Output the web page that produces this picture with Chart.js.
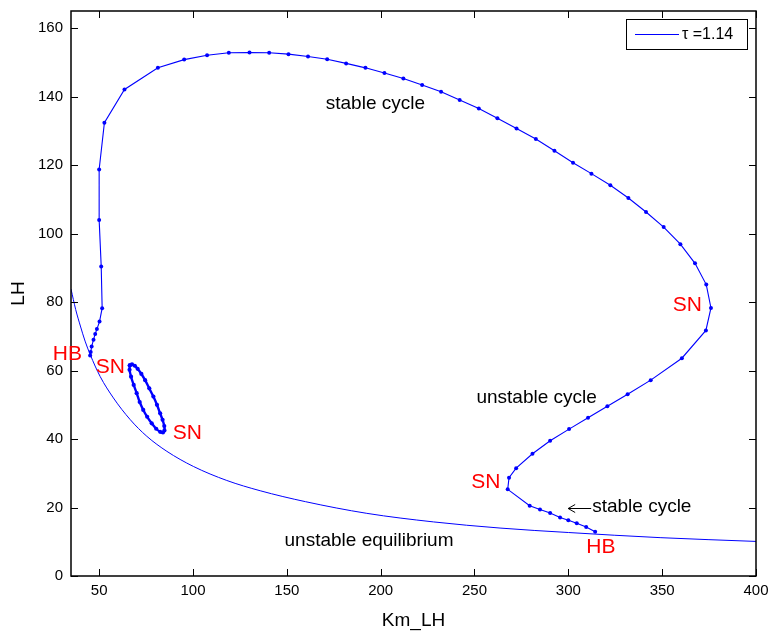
<!DOCTYPE html>
<html>
<head>
<meta charset="utf-8">
<script src="https://cdn.jsdelivr.net/npm/chart.js@4/dist/chart.umd.min.js"></script>
<style>
  html, body { margin: 0; padding: 0; background: #fff; }
  #wrap { width: 772px; height: 632px; }
</style>
</head>
<body>
<div id="wrap"><canvas id="c" width="772" height="632"></canvas></div>
<script>
// ---- Data ----
const xTicks = [50, 100, 150, 200, 250, 300, 350, 400];
const yTicks = [0, 20, 40, 60, 80, 100, 120, 140, 160];

// unstable equilibrium branch (legend: tau = 1.14)
const eqKm = [35, 37.5, 40, 42.5, 45.2, 50.5, 57.6, 66.5, 75.4, 86.1, 100.2, 118, 135.8, 160, 192.6, 228.1, 263.6, 300, 348.9, 400];
const eqLH = [83.8, 77.8, 73.0, 68.6, 64.7, 58.3, 52.0, 45.7, 40.8, 36.4, 32.0, 27.9, 24.9, 21.7, 18.3, 15.8, 14.0, 12.7, 11.2, 10.1];

// big cycle branch: from left HB, around the loop, to lower-right HB
const cycKm = [45.2, 45.5, 46.0, 47.0, 47.9, 48.8, 50.2, 51.6, 51.1, 50.0, 50.0, 52.8, 63.5, 81.3, 95.3, 107.5, 119.1, 130.1, 140.6, 150.9,
  161.3, 171.5, 181.6, 191.9, 202.0, 212.1, 222.1, 232.2, 242.1, 252.3, 262.2, 272.4, 282.7, 292.6, 302.5, 312.3, 322.4, 332.0, 341.4, 350.8,
  359.7, 367.5, 373.5, 376.0, 373.3, 360.5, 343.9, 331.6, 320.8, 310.5, 300.4, 290.3, 280.9, 272.2, 268.4, 267.7, 279.4, 284.9, 290.3, 295.6,
  300.0, 304.5, 309.5, 314.3];
const cycLH = [64.4, 65.4, 67.0, 69.0, 70.7, 72.1, 74.3, 78.2, 90.4, 104.0, 118.7, 132.4, 142.1, 148.4, 150.8, 152.1, 152.8, 152.9, 152.8, 152.4,
  151.7, 150.9, 149.7, 148.4, 146.9, 145.3, 143.4, 141.4, 139.0, 136.5, 133.7, 130.7, 127.6, 124.2, 120.7, 117.5, 114.1, 110.4, 106.3, 101.9,
  96.9, 91.3, 85.1, 78.3, 71.7, 63.6, 57.2, 53.1, 49.6, 46.2, 42.9, 39.5, 35.7, 31.5, 28.7, 25.3, 20.5, 19.4, 18.4, 17.1,
  16.3, 15.4, 14.3, 12.9];

// small closed cycle between the two SN points
const loopKm = [66.3, 67.5, 69.0, 70.5, 72.5, 74.5, 76.7, 78.9, 80.8, 82.5, 83.8, 84.7, 84.8, 84.0, 82.5, 80.4, 78.0, 75.6, 73.5, 71.6, 70.0, 68.4, 67.0, 66.2, 66.3];
const loopLH = [61.5, 61.8, 61.4, 60.5, 59.0, 57.2, 54.8, 52.4, 50.0, 47.5, 45.6, 43.8, 42.5, 41.9, 42.1, 43.0, 44.6, 46.5, 48.5, 50.8, 53.4, 55.8, 58.2, 60.2, 61.5];

const seriesLabel = 'τ =1.14';

// text annotations (data coordinates)
const noteText  = ['stable cycle', 'unstable cycle', 'unstable equilibrium', 'HB', 'SN', 'SN', 'SN', 'SN', 'HB'];
const noteKm    = [197.2, 283.1, 193.8, 33.1, 55.9, 97.0, 363.4, 256.1, 317.3];
const noteLH    = [137.9, 52.0, 10.4, 64.9, 60.9, 41.7, 79.2, 27.3, 8.3];
const noteRed   = [false, false, false, true, true, true, true, true, true];
const arrowNote = { text: 'stable cycle', km: 312.7, lh: 20.2 };

const zip = (xs, ys) => xs.map((v, i) => ({ x: v, y: ys[i] }));
const BLUE = '#0000ff';
const FONT = "'Liberation Sans', Arial, sans-serif";

const framePlugin = {
  id: 'frame',
  afterDraw(chart) {
    const { ctx, chartArea: a, scales: { x, y } } = chart;
    ctx.save();
    ctx.strokeStyle = '#000';
    ctx.lineWidth = 1;
    const line = (x1, y1, x2, y2) => { ctx.beginPath(); ctx.moveTo(x1, y1); ctx.lineTo(x2, y2); ctx.stroke(); };
    const L = 7;
    xTicks.forEach(v => {
      const p = Math.round(x.getPixelForValue(v)) + 0.5;
      line(p, a.bottom, p, a.bottom - L);
      line(p, a.top, p, a.top + L);
    });
    yTicks.forEach(v => {
      const p = Math.round(y.getPixelForValue(v)) + 0.5;
      line(a.left, p, a.left + L, p);
      line(a.right, p, a.right - L, p);
    });
    ctx.lineWidth = 1.5;
    ctx.strokeRect(Math.round(a.left), Math.round(a.top), Math.round(a.right - a.left), Math.round(a.bottom - a.top));

    // annotations
    ctx.textAlign = 'center';
    ctx.textBaseline = 'middle';
    noteText.forEach((t, i) => {
      ctx.fillStyle = noteRed[i] ? '#ff0000' : '#000';
      ctx.font = (noteRed[i] ? '21px ' : '19px ') + FONT;
      ctx.fillText(t, x.getPixelForValue(noteKm[i]), y.getPixelForValue(noteLH[i]));
    });
    // arrow + text
    const tx = x.getPixelForValue(arrowNote.km), ty = y.getPixelForValue(arrowNote.lh);
    ctx.fillStyle = '#000';
    ctx.font = '19px ' + FONT;
    ctx.textAlign = 'left';
    ctx.fillText(arrowNote.text, tx, ty);
    ctx.lineWidth = 1;
    const ay = Math.round(ty + 1) + 0.5;
    line(tx - 24, ay, tx - 1, ay);
    line(tx - 24, ay, tx - 17, ay - 4);
    line(tx - 24, ay, tx - 17, ay + 4);

    // legend box
    const bx = a.right - 130, by = a.top + 8, bw = 121, bh = 30;
    ctx.fillStyle = '#fff';
    ctx.fillRect(bx, by, bw, bh);
    ctx.strokeStyle = '#000';
    ctx.strokeRect(bx + 0.5, by + 0.5, bw, bh);
    ctx.strokeStyle = BLUE;
    line(bx + 9, by + 15.5, bx + 53, by + 15.5);
    ctx.fillStyle = '#000';
    ctx.font = '16px ' + FONT;
    ctx.textAlign = 'left';
    ctx.fillText(chart.data.datasets[0].label, bx + 56, by + 16);
    ctx.restore();
  }
};

new Chart(document.getElementById('c'), {
  type: 'scatter',
  data: {
    datasets: [
      { label: seriesLabel, data: zip(eqKm, eqLH), showLine: true, borderColor: BLUE, borderWidth: 1,
        pointRadius: 0, cubicInterpolationMode: 'monotone' },
      { label: 'cycle', data: zip(cycKm, cycLH), showLine: true, borderColor: BLUE, backgroundColor: BLUE,
        borderWidth: 1.1, pointRadius: 2, pointBorderWidth: 0, tension: 0 },
      { label: 'loop', data: zip(loopKm, loopLH), showLine: true, borderColor: BLUE, backgroundColor: BLUE,
        borderWidth: 2.4, pointRadius: 2.1, pointBorderWidth: 0, tension: 0.3 }
    ]
  },
  options: {
    responsive: false,
    animation: false,
    events: [],
    layout: { padding: { top: 11, right: 16, left: 0, bottom: 0 } },
    plugins: { legend: { display: false }, tooltip: { enabled: false } },
    scales: {
      x: {
        type: 'linear', min: 35, max: 400,
        grid: { display: false, drawTicks: false },
        border: { display: false },
        afterBuildTicks: s => { s.ticks = xTicks.map(v => ({ value: v })); },
        afterFit: s => { s.height = 56; s.paddingLeft = 0; s.paddingRight = 0; },
        ticks: { color: '#000', padding: 6, font: { family: FONT, size: 15 }, maxRotation: 0 },
        title: { display: true, text: 'Km_LH', color: '#000', font: { family: FONT, size: 19 }, padding: { top: 0, bottom: 0 } }
      },
      y: {
        type: 'linear', min: 0, max: 165,
        grid: { display: false, drawTicks: false },
        border: { display: false },
        afterBuildTicks: s => { s.ticks = yTicks.map(v => ({ value: v })); },
        afterFit: s => { s.width = 71; s.paddingTop = 0; s.paddingBottom = 0; },
        ticks: { color: '#000', padding: 8, font: { family: FONT, size: 15 } },
        title: { display: true, text: 'LH', color: '#000', font: { family: FONT, size: 19 }, padding: { top: 7, bottom: 0 } }
      }
    }
  },
  plugins: [framePlugin]
});
</script>
</body>
</html>
